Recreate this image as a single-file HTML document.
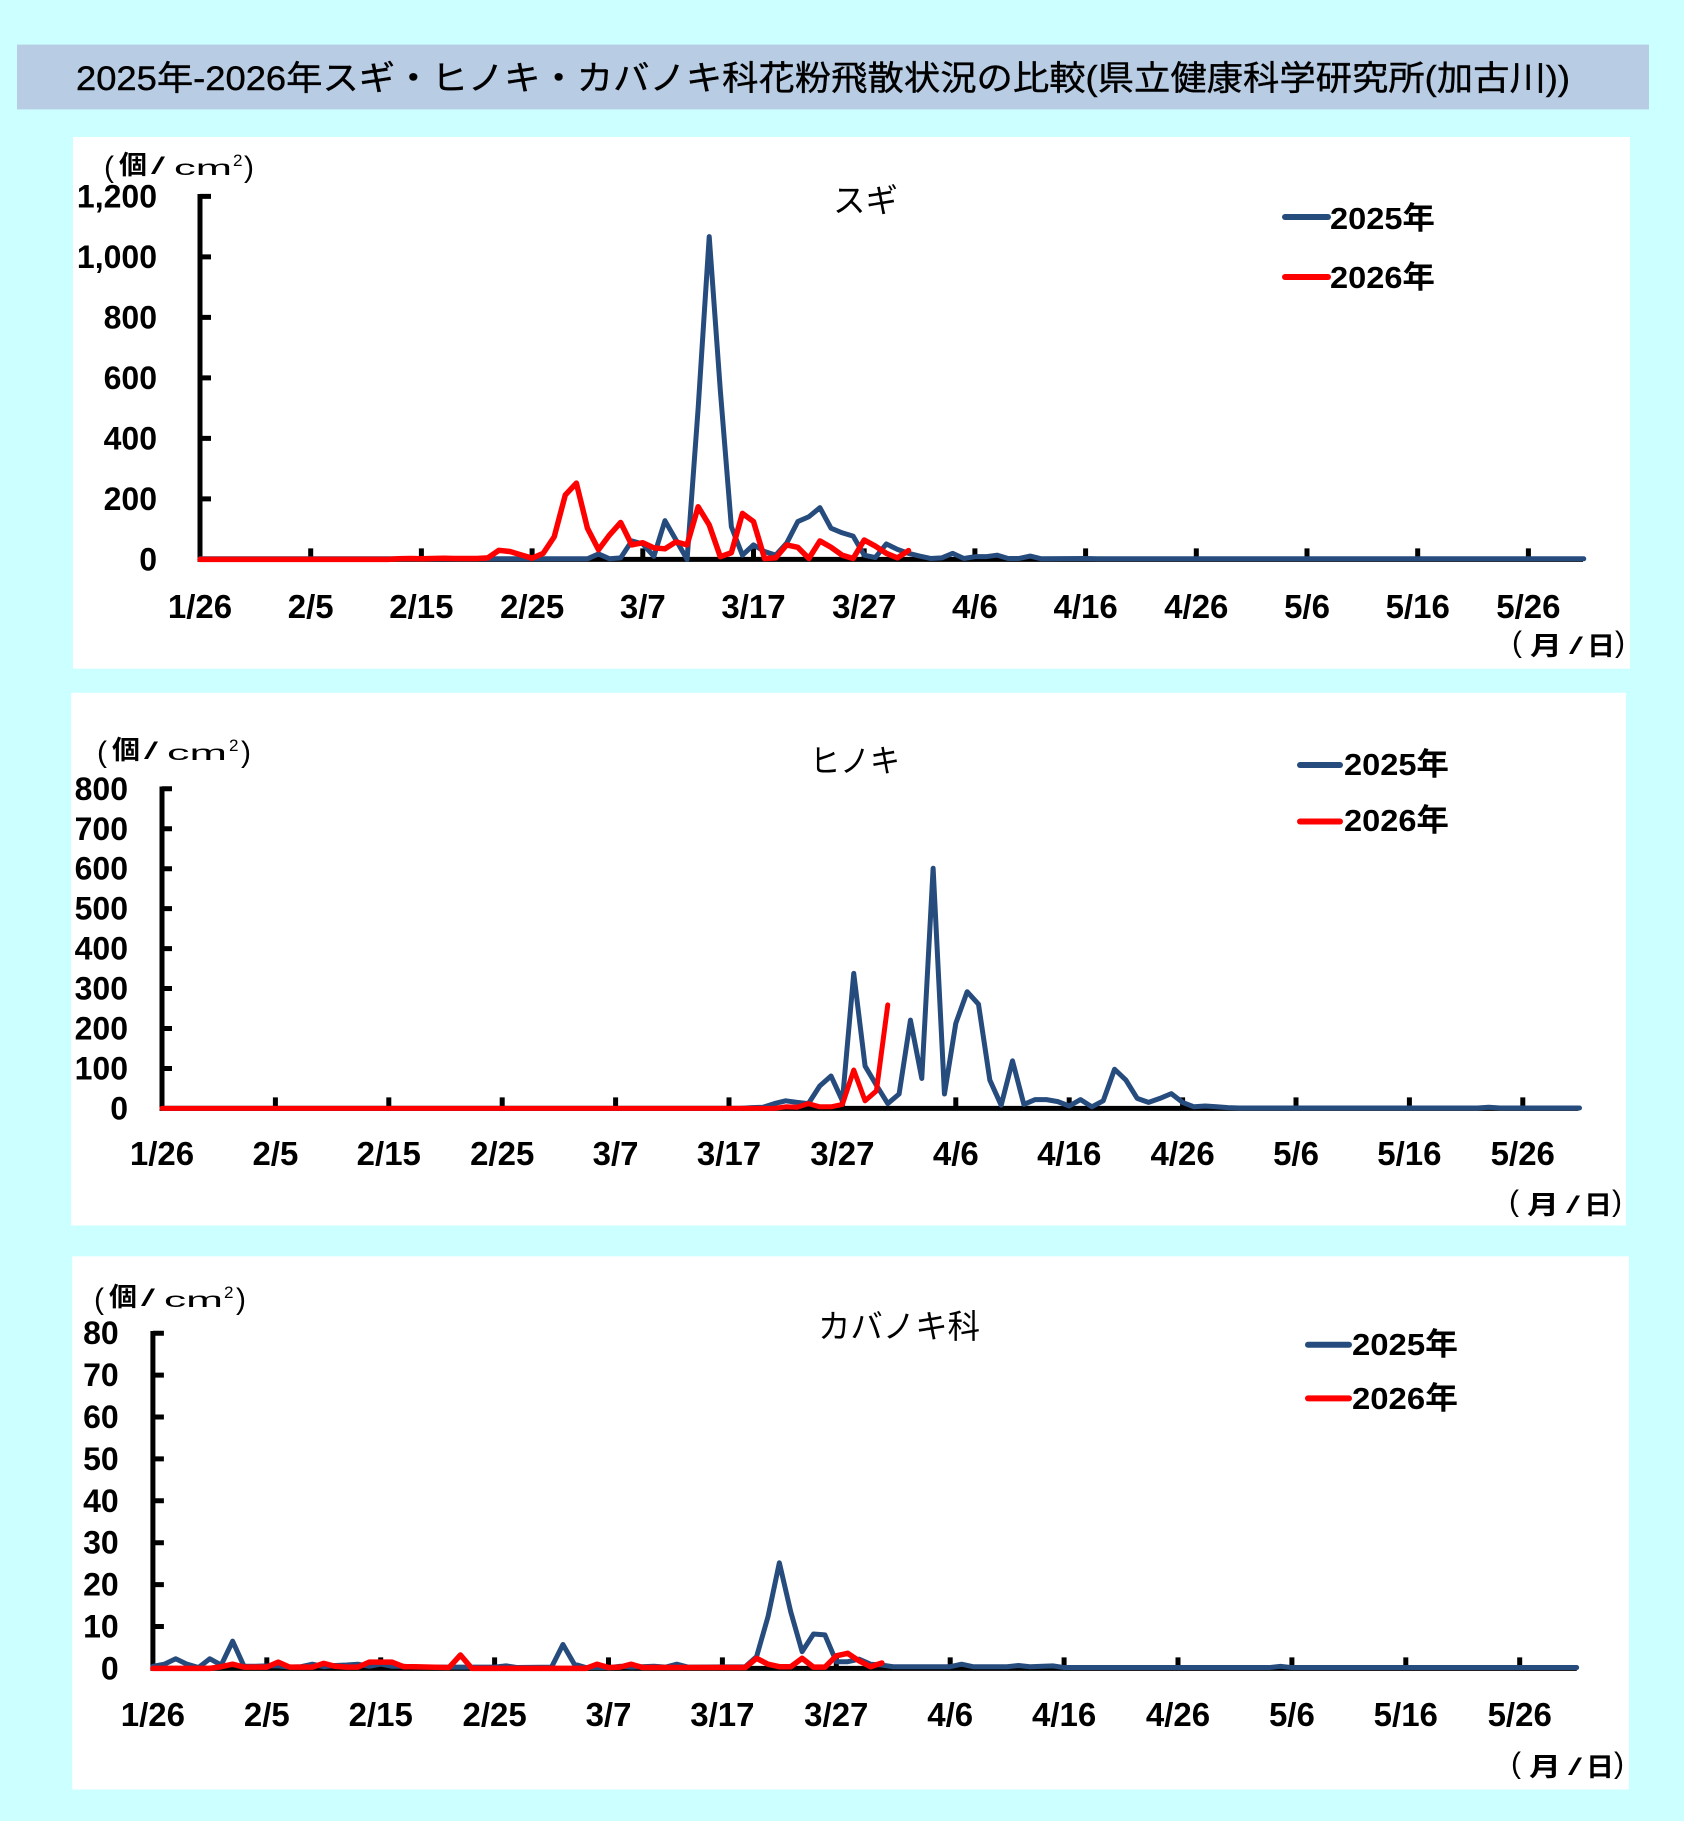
<!DOCTYPE html>
<html>
<head>
<meta charset="utf-8">
<style>
html,body{margin:0;padding:0;background:#ccffff;}
svg{display:block;}
.t{font-family:"Liberation Sans",sans-serif;font-weight:bold;fill:#000;}
.j{font-family:"Liberation Sans","Noto Sans CJK JP",sans-serif;fill:#000;}
.l{font-family:"Liberation Sans",sans-serif;fill:#000;}
.ax{stroke:#000;stroke-width:5;fill:none;}
.b{fill:none;stroke:#264b7d;stroke-linejoin:round;stroke-linecap:round;}
.r{fill:none;stroke:#ff0000;stroke-linejoin:round;stroke-linecap:round;}
</style>
</head>
<body>
<svg width="1684" height="1821" viewBox="0 0 1684 1821" xmlns="http://www.w3.org/2000/svg">
<rect x="0" y="0" width="1684" height="1821" fill="#ccffff"/>
<rect x="17" y="44.6" width="1632" height="64.8" fill="#b8cce4"/>
<text class="j" x="76" y="90" font-size="34" stroke="#000" stroke-width="0.4" textLength="1494" lengthAdjust="spacingAndGlyphs">2025年-2026年スギ・ヒノキ・カバノキ科花粉飛散状況の比較(県立健康科学研究所(加古川))</text>

<!-- Panel 1 -->
<rect x="73" y="137" width="1557" height="531.7" fill="#fff"/>
<g>
<text class="l" x="104" y="177" font-size="30">(</text>
<text class="j" x="119" y="174" font-size="26" font-weight="bold" textLength="28" lengthAdjust="spacingAndGlyphs">個</text>
<text class="l" x="151" y="174" font-size="24" textLength="14" lengthAdjust="spacingAndGlyphs">/</text>
<text class="l" x="174" y="175" font-size="21" textLength="58" lengthAdjust="spacingAndGlyphs">cm</text>
<text class="l" x="233" y="166" font-size="17">2</text>
<text class="l" x="244" y="177" font-size="30">)</text>
</g>
<text class="j" x="833" y="212" font-size="33" textLength="65" lengthAdjust="spacingAndGlyphs">スギ</text>
<path class="ax" d="M200 194V561.9M197.5 559.4H1583"/>
<path class="ax" d="M200 498.9h11M200 438.4h11M200 377.9h11M200 317.4h11M200 256.9h11M200 196.4h11"/>
<path class="ax" d="M310.7 559.4v-11M421.4 559.4v-11M532.1 559.4v-11M642.8 559.4v-11M753.5 559.4v-11M864.2 559.4v-11M974.9 559.4v-11M1085.6 559.4v-11M1196.3 559.4v-11M1307 559.4v-11M1417.7 559.4v-11M1528.4 559.4v-11"/>
<g class="t" font-size="32" text-anchor="end">
<text x="157" y="570.4">0</text><text x="157" y="509.9">200</text><text x="157" y="449.4">400</text><text x="157" y="388.9">600</text><text x="157" y="328.4">800</text><text x="157" y="267.9">1,000</text><text x="157" y="207.4">1,200</text>
</g>
<g class="t" font-size="33" text-anchor="middle">
<text x="200" y="618">1/26</text><text x="310.7" y="618">2/5</text><text x="421.4" y="618">2/15</text><text x="532.1" y="618">2/25</text><text x="642.8" y="618">3/7</text><text x="753.5" y="618">3/17</text><text x="864.2" y="618">3/27</text><text x="974.9" y="618">4/6</text><text x="1085.6" y="618">4/16</text><text x="1196.3" y="618">4/26</text><text x="1307" y="618">5/6</text><text x="1417.7" y="618">5/16</text><text x="1528.4" y="618">5/26</text>
</g>
<g>
<text class="l" x="1512" y="652" font-size="30">(</text>
<text class="j" x="1530" y="655" font-size="26" font-weight="bold" textLength="32" lengthAdjust="spacingAndGlyphs">月</text>
<text class="l" x="1569" y="654" font-size="24" textLength="14" lengthAdjust="spacingAndGlyphs">/</text>
<text class="j" x="1587" y="655" font-size="26" font-weight="bold" textLength="28" lengthAdjust="spacingAndGlyphs">日</text>
<text class="l" x="1615" y="652" font-size="30">)</text>
</g>
<g transform="translate(200,559.4) scale(11.07,-0.3025)">
<polyline class="b" vector-effect="non-scaling-stroke" stroke-width="5" points="0,2 35,2 36,18 37,2 38,5 39,61 40,51 41,10 42,128 43,64 44,0 45,500 46,1067 47,560 48,108 49,14 50,48 51,26 52,14 53,54 54,125 55,141 56,171 57,103 58,88 59,77 60,14 61,6 62,51 63,33 64,20 65,11 66,3 67,5 68,20 69,3 70,9 71,9 72,14 73,3 74,3 75,11 76,2 80,3 81,2 90,2 125,2"/>
<polyline class="r" vector-effect="non-scaling-stroke" stroke-width="5.5" points="0,0 17,0 18,2 19,3 20,2 21,3 22,4 23,3 24,3 25,3 26,5 27,30 28,26 29,15 30,4 31,20 32,75 33,213 34,252 35,103 36,32 37,81 38,122 39,48 40,55 41,38 42,35 43,58 44,48 45,174 46,114 47,9 48,22 49,152 50,125 51,3 52,5 53,48 54,40 55,3 56,61 57,40 58,14 59,3 60,64 61,44 62,20 63,5 64,29"/>
</g>
<line x1="1285" y1="217" x2="1328" y2="217" stroke="#264b7d" stroke-width="6" stroke-linecap="round"/>
<line x1="1285" y1="277" x2="1328" y2="277" stroke="#ff0000" stroke-width="6" stroke-linecap="round"/>
<text class="j" x="1330" y="229" font-size="31" font-weight="bold" textLength="105" lengthAdjust="spacingAndGlyphs">2025年</text>
<text class="j" x="1330" y="288" font-size="31" font-weight="bold" textLength="105" lengthAdjust="spacingAndGlyphs">2026年</text>

<!-- Panel 2 -->
<rect x="71.2" y="692.8" width="1554.8" height="532.7" fill="#fff"/>
<g transform="translate(-7,585)">
<text class="l" x="104" y="177" font-size="30">(</text>
<text class="j" x="119" y="174" font-size="26" font-weight="bold" textLength="28" lengthAdjust="spacingAndGlyphs">個</text>
<text class="l" x="151" y="174" font-size="24" textLength="14" lengthAdjust="spacingAndGlyphs">/</text>
<text class="l" x="174" y="175" font-size="21" textLength="60" lengthAdjust="spacingAndGlyphs">cm</text>
<text class="l" x="236" y="166" font-size="17">2</text>
<text class="l" x="248" y="177" font-size="30">)</text>
</g>
<text class="j" x="810" y="772" font-size="32" textLength="90" lengthAdjust="spacingAndGlyphs">ヒノキ</text>
<path class="ax" d="M162 786.5V1110.9M159.5 1108.4H1578.4"/>
<path class="ax" d="M162 1068.45h10M162 1028.5h10M162 988.55h10M162 948.6h10M162 908.65h10M162 868.7h10M162 828.75h10M162 788.8h10"/>
<path class="ax" d="M275.4 1108.4v-11M388.8 1108.4v-11M502.2 1108.4v-11M615.6 1108.4v-11M729 1108.4v-11M842.4 1108.4v-11M955.8 1108.4v-11M1069.2 1108.4v-11M1182.6 1108.4v-11M1296 1108.4v-11M1409.4 1108.4v-11M1522.8 1108.4v-11"/>
<g class="t" font-size="32" text-anchor="end">
<text x="128" y="1119.4">0</text><text x="128" y="1079.45">100</text><text x="128" y="1039.5">200</text><text x="128" y="999.55">300</text><text x="128" y="959.6">400</text><text x="128" y="919.65">500</text><text x="128" y="879.7">600</text><text x="128" y="839.75">700</text><text x="128" y="799.8">800</text>
</g>
<g class="t" font-size="33" text-anchor="middle">
<text x="162" y="1165">1/26</text><text x="275.4" y="1165">2/5</text><text x="388.8" y="1165">2/15</text><text x="502.2" y="1165">2/25</text><text x="615.6" y="1165">3/7</text><text x="729" y="1165">3/17</text><text x="842.4" y="1165">3/27</text><text x="955.8" y="1165">4/6</text><text x="1069.2" y="1165">4/16</text><text x="1182.6" y="1165">4/26</text><text x="1296" y="1165">5/6</text><text x="1409.4" y="1165">5/16</text><text x="1522.8" y="1165">5/26</text>
</g>
<g transform="translate(-3,559)">
<text class="l" x="1512" y="652" font-size="30">(</text>
<text class="j" x="1530" y="655" font-size="26" font-weight="bold" textLength="32" lengthAdjust="spacingAndGlyphs">月</text>
<text class="l" x="1569" y="654" font-size="24" textLength="14" lengthAdjust="spacingAndGlyphs">/</text>
<text class="j" x="1587" y="655" font-size="26" font-weight="bold" textLength="28" lengthAdjust="spacingAndGlyphs">日</text>
<text class="l" x="1615" y="652" font-size="30">)</text>
</g>
<g transform="translate(162,1108.4) scale(11.34,-0.3995)">
<polyline class="b" vector-effect="non-scaling-stroke" stroke-width="5" points="0,0 51,0 52,2 53,3 54,12 55,19 56,15 57,12 58,56 59,81 60,19 61,338 62,106 63,58 64,12 65,36 66,221 67,75 68,601 69,36 70,213 71,292 72,261 73,71 74,8 75,119 76,10 77,22 78,22 79,17 80,6 81,22 82,4 83,19 84,98 85,71 86,25 87,15 88,25 89,37 90,15 91,4 92,6 93,4 94,2 95,1 116,1 117,3 118,1 125,1"/>
<polyline class="r" vector-effect="non-scaling-stroke" stroke-width="5" points="0,0 54,0 55,4 56,3 57,12 58,4 59,4 60,10 61,96 62,19 63,44 64,259"/>
</g>
<line x1="1300" y1="765" x2="1340" y2="765" stroke="#264b7d" stroke-width="6" stroke-linecap="round"/>
<line x1="1300" y1="821.5" x2="1340" y2="821.5" stroke="#ff0000" stroke-width="6" stroke-linecap="round"/>
<text class="j" x="1344" y="775" font-size="31" font-weight="bold" textLength="105" lengthAdjust="spacingAndGlyphs">2025年</text>
<text class="j" x="1344" y="831" font-size="31" font-weight="bold" textLength="105" lengthAdjust="spacingAndGlyphs">2026年</text>

<!-- Panel 3 -->
<rect x="72.2" y="1256.3" width="1556.7" height="533.2" fill="#fff"/>
<g transform="translate(-10,1132)">
<text class="l" x="104" y="177" font-size="30">(</text>
<text class="j" x="119" y="174" font-size="26" font-weight="bold" textLength="28" lengthAdjust="spacingAndGlyphs">個</text>
<text class="l" x="151" y="174" font-size="24" textLength="14" lengthAdjust="spacingAndGlyphs">/</text>
<text class="l" x="174" y="175" font-size="21" textLength="59" lengthAdjust="spacingAndGlyphs">cm</text>
<text class="l" x="234" y="166" font-size="17">2</text>
<text class="l" x="246" y="177" font-size="30">)</text>
</g>
<text class="j" x="818" y="1338" font-size="33" textLength="162" lengthAdjust="spacingAndGlyphs">カバノキ科</text>
<path class="ax" d="M152.9 1331V1670.9M150.4 1668.4H1576.8"/>
<path class="ax" d="M152.9 1626.5h11M152.9 1584.6h11M152.9 1542.7h11M152.9 1500.8h11M152.9 1458.9h11M152.9 1417h11M152.9 1375.1h11M152.9 1333.2h11"/>
<path class="ax" d="M266.8 1668.4v-11M380.7 1668.4v-11M494.6 1668.4v-11M608.5 1668.4v-11M722.4 1668.4v-11M836.3 1668.4v-11M950.2 1668.4v-11M1064.1 1668.4v-11M1178 1668.4v-11M1291.9 1668.4v-11M1405.8 1668.4v-11M1519.7 1668.4v-11"/>
<g class="t" font-size="32" text-anchor="end">
<text x="118.7" y="1679.4">0</text><text x="118.7" y="1637.5">10</text><text x="118.7" y="1595.6">20</text><text x="118.7" y="1553.7">30</text><text x="118.7" y="1511.8">40</text><text x="118.7" y="1469.9">50</text><text x="118.7" y="1428">60</text><text x="118.7" y="1386.1">70</text><text x="118.7" y="1344.2">80</text>
</g>
<g class="t" font-size="33" text-anchor="middle">
<text x="152.9" y="1726">1/26</text><text x="266.8" y="1726">2/5</text><text x="380.7" y="1726">2/15</text><text x="494.6" y="1726">2/25</text><text x="608.5" y="1726">3/7</text><text x="722.4" y="1726">3/17</text><text x="836.3" y="1726">3/27</text><text x="950.2" y="1726">4/6</text><text x="1064.1" y="1726">4/16</text><text x="1178" y="1726">4/26</text><text x="1291.9" y="1726">5/6</text><text x="1405.8" y="1726">5/16</text><text x="1519.7" y="1726">5/26</text>
</g>
<g transform="translate(-1,1121)">
<text class="l" x="1512" y="652" font-size="30">(</text>
<text class="j" x="1530" y="655" font-size="26" font-weight="bold" textLength="32" lengthAdjust="spacingAndGlyphs">月</text>
<text class="l" x="1569" y="654" font-size="24" textLength="14" lengthAdjust="spacingAndGlyphs">/</text>
<text class="j" x="1587" y="655" font-size="26" font-weight="bold" textLength="28" lengthAdjust="spacingAndGlyphs">日</text>
<text class="l" x="1615" y="652" font-size="30">)</text>
</g>
<g transform="translate(152.9,1668.4) scale(11.39,-4.19)">
<polyline class="b" vector-effect="non-scaling-stroke" stroke-width="5" points="0,0.5 1,1 2,2.3 3,1 4,0.2 5,2.3 6,0.8 7,6.5 8,0.5 9,0.5 10,0.6 11,0.6 12,0.3 13,0.4 14,1 15,0.4 16,0.7 17,0.8 18,1 19,0.5 20,1 21,0.5 22,0.5 23,0.3 30,0.3 31,0.6 32,0.2 35,0.3 36,5.7 37,1 38,0.2 40,0.2 41,0.5 42,0.3 44,0.5 45,0.3 46,1 47,0.3 52,0.4 53,2.8 54,12.3 55,25.2 56,13.5 57,4 58,8.2 59,8 60,1.6 61,1.6 62,2.2 63,1 64,0.8 65,0.4 70,0.4 71,1 72,0.4 75,0.4 76,0.7 77,0.4 79,0.6 80,0.2 98,0.2 99,0.5 100,0.2 125,0.2"/>
<polyline class="r" vector-effect="non-scaling-stroke" stroke-width="5.5" points="0,0 5,0 6,0.4 7,1 8,0.3 10,0.3 11,1.5 12,0.3 14,0.3 15,1.2 16,0.5 17,0.3 18,0.3 19,1.5 20,1.5 21,1.5 22,0.4 23,0.4 26,0.2 27,3.2 28,0 38,0 39,1 40,0.2 41,0.3 42,1 43,0.2 52,0.2 53,2.4 54,1 55,0.4 56,0.4 57,2.4 58,0.3 59,0.3 60,3 61,3.6 62,1.8 63,0.4 64,1.3"/>
</g>
<line x1="1308" y1="1344.7" x2="1349" y2="1344.7" stroke="#264b7d" stroke-width="6" stroke-linecap="round"/>
<line x1="1308" y1="1398.4" x2="1349" y2="1398.4" stroke="#ff0000" stroke-width="6" stroke-linecap="round"/>
<text class="j" x="1352" y="1355" font-size="31" font-weight="bold" textLength="106" lengthAdjust="spacingAndGlyphs">2025年</text>
<text class="j" x="1352" y="1409" font-size="31" font-weight="bold" textLength="106" lengthAdjust="spacingAndGlyphs">2026年</text>
</svg>
</body>
</html>
